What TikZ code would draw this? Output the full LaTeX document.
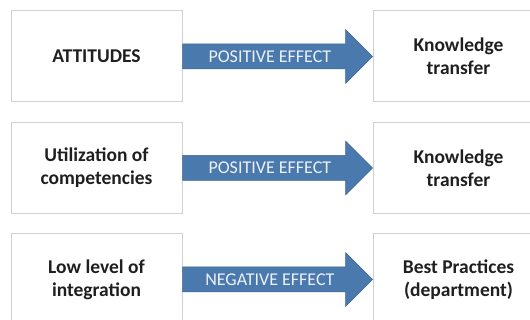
\documentclass[tikz,border=0pt]{standalone}
\usepackage{fontspec}
\setmainfont{Carlito}
\usetikzlibrary{positioning,calc}
\definecolor{effectblue}{RGB}{74,121,173}
\definecolor{boxgray}{RGB}{208,208,208}
\tikzset{
  factor/.style={draw=boxgray, line width=1pt, minimum width=171pt, minimum height=91pt,
    align=center, text=black!88, font=\bfseries\fontsize{19.5}{23}\selectfont},
  effect/.style={fill=effectblue, draw=effectblue!85!black, line width=0.5pt},
  effectlabel/.style={text=white!90!effectblue, font=\fontsize{18}{20}\selectfont}
}
\begin{document}
\begin{tikzpicture}[x=1pt,y=1pt]
    \clip (0,0) rectangle (530,-320);
    % left column
    \node[factor] (att) at (96.5,-56.5) {ATTITUDES};
    \node[factor, below=19.5pt of att] (util) {Utilization of\\competencies};
    \node[factor, below=19.5pt of util] (low) {Low level of\\integration};
    % right column
    \node[factor, right=190pt of att] (kt1) {Knowledge\\transfer};
    \node[factor, right=190pt of util] (kt2) {Knowledge\\transfer};
    \node[factor, right=190pt of low] (best) {Best Practices\\(department)};
    % effect arrows
    \filldraw[effect] ([yshift=12.5pt]att.east) -- ([xshift=-27pt,yshift=12.5pt]kt1.west)
        -- ([xshift=-27pt,yshift=27pt]kt1.west) -- (kt1.west)
        -- ([xshift=-27pt,yshift=-27pt]kt1.west) -- ([xshift=-27pt,yshift=-12.5pt]kt1.west)
        -- ([yshift=-12.5pt]att.east) -- cycle;
    \node[effectlabel] (pos1) at ($(att.east)!0.46!(kt1.west)$) {POSITIVE EFFECT};
    \filldraw[effect] ([yshift=12.5pt]util.east) -- ([xshift=-27pt,yshift=12.5pt]kt2.west)
        -- ([xshift=-27pt,yshift=27pt]kt2.west) -- (kt2.west)
        -- ([xshift=-27pt,yshift=-27pt]kt2.west) -- ([xshift=-27pt,yshift=-12.5pt]kt2.west)
        -- ([yshift=-12.5pt]util.east) -- cycle;
    \node[effectlabel] (pos2) at ($(util.east)!0.46!(kt2.west)$) {POSITIVE EFFECT};
    \filldraw[effect] ([yshift=12.5pt]low.east) -- ([xshift=-27pt,yshift=12.5pt]best.west)
        -- ([xshift=-27pt,yshift=27pt]best.west) -- (best.west)
        -- ([xshift=-27pt,yshift=-27pt]best.west) -- ([xshift=-27pt,yshift=-12.5pt]best.west)
        -- ([yshift=-12.5pt]low.east) -- cycle;
    \node[effectlabel] (neg) at ($(low.east)!0.46!(best.west)$) {NEGATIVE EFFECT};
\end{tikzpicture}
\end{document}
